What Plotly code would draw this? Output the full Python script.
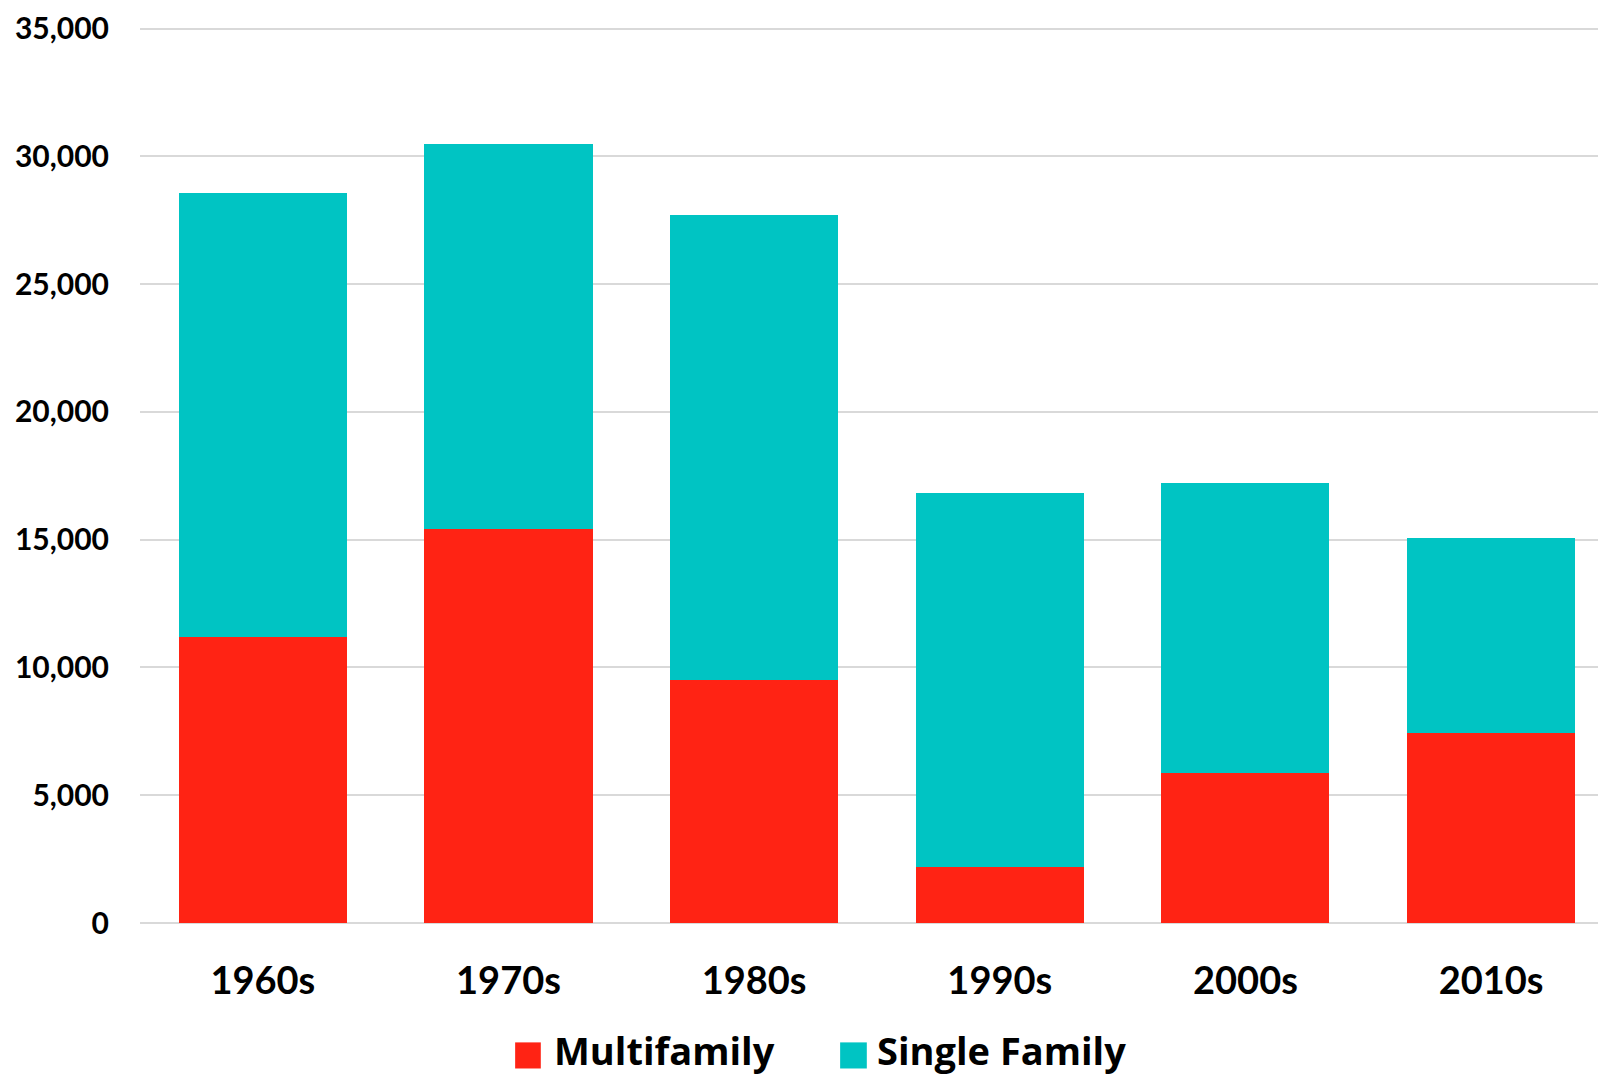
import plotly.graph_objects as go

# Housing units completed by decade, split by building type
decades = ["1960s", "1970s", "1980s", "1990s", "2000s", "2010s"]
multifamily = [11190, 15420, 9510, 2190, 5880, 7440]
single_family_total = [28570, 30500, 27710, 16810, 17210, 15050]
single_family = [t - m for t, m in zip(single_family_total, multifamily)]

series_names = ["Multifamily", "Single Family"]
series_colors = ["#FF2314", "#00C4C3"]

FONT = "Lato"
LEGEND_FONT = "Open Sans"

Y_MAX = 35100  # a little headroom so the 35,000 gridline is drawn

fig = go.Figure()
for name, vals, color in zip(series_names, [multifamily, single_family], series_colors):
    fig.add_trace(go.Bar(
        x=decades, y=vals, name=name, width=0.684,
        marker=dict(color=color, line=dict(width=0)),
        showlegend=False,
    ))

# Large square legend keys drawn beside bold labels below the axis
key_x = [(0.2573, 0.2749), (0.4802, 0.4985)]
text_x = [0.2835, 0.5050]
for (x0, x1), tx, name, color in zip(key_x, text_x, series_names, series_colors):
    fig.add_shape(type="rect", xref="paper", yref="paper",
                  x0=x0, x1=x1, y0=-0.1622, y1=-0.1331,
                  fillcolor=color, line=dict(width=0))
    fig.add_annotation(xref="paper", yref="paper", x=tx, y=-0.1722,
                       xanchor="left", yanchor="bottom", showarrow=False,
                       text=name, borderpad=0,
                       font=dict(family=LEGEND_FONT, size=38, color="black", weight="bold"))

fig.update_layout(
    barmode="stack",
    width=1598, height=1077,
    margin=dict(l=140, r=0, t=26, b=154),
    plot_bgcolor="white", paper_bgcolor="white",
    font=dict(family=FONT, color="black"),
)
fig.update_xaxes(
    range=[-0.5, 5.435],
    showgrid=False, showline=False, zeroline=False,
    ticks="", ticklabelstandoff=32,
    tickfont=dict(family=FONT, size=38, color="black", weight="bold"),
)
fig.update_yaxes(
    range=[0, Y_MAX], tickvals=[0, 5000, 10000, 15000, 20000, 25000, 30000, 35000],
    tickformat=",",
    showgrid=True, gridcolor="#D9D9D9", gridwidth=1.5,
    zeroline=True, zerolinecolor="#D9D9D9", zerolinewidth=1.5,
    showline=False, ticks="", ticklabelstandoff=30,
    tickfont=dict(family=FONT, size=30, color="black", weight="bold"),
)

fig.write_html("out.html")
